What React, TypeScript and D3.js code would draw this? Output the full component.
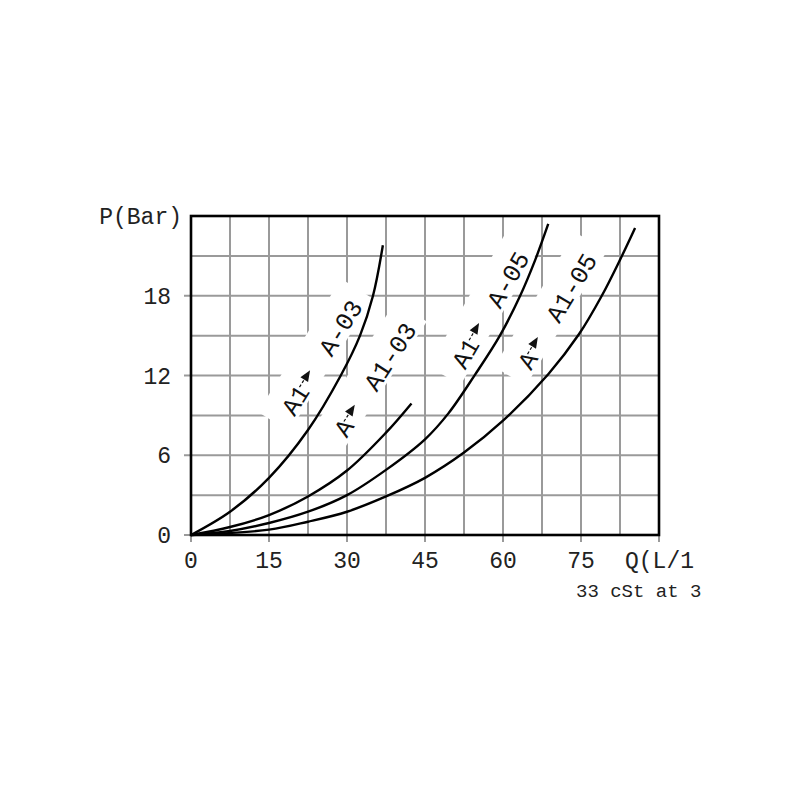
import React from 'react';
import * as d3 from 'd3';

// axis ticks
const xTicks = [0, 15, 30, 45, 60, 75, 90];
const xTickLabels = ['0', '15', '30', '45', '60', '75'];
const yTicks = [0, 6, 12, 18];
const xGridStep = 7.5;
const yGridStep = 3;

// Q (L/min) vs P (bar)
const curveA1toA03 = [[0, 0], [7.5, 1.75], [15, 4.3], [22.5, 7.9], [28.8, 12], [32.5, 15], [35, 18], [36.9, 21.8]];
const curveAtoA103 = [[0, 0], [7.5, 0.6], [15, 1.5], [22.5, 2.9], [30, 4.85], [37.5, 7.7], [42.4, 9.9]];
const curveA1toA05 = [[0, 0], [7.5, 0.3], [15, 0.9], [22.5, 1.75], [30, 3.0], [37.5, 4.9], [45, 7.2], [49.5, 9.15], [54.6, 12.05], [59.4, 15], [63.3, 18], [66.2, 20.7], [68.7, 23.4]];
const curveAtoA105 = [[0, 0], [15, 0.4], [22.5, 1.0], [30, 1.75], [37.5, 2.9], [45, 4.3], [52.5, 6.2], [60, 8.6], [68.7, 12.1], [74.6, 15.1], [79, 18], [82.5, 20.7], [85.4, 23.1]];

const curves = [curveA1toA03, curveAtoA103, curveA1toA05, curveAtoA105];

// curve labels: "from ▲ to", placed at the arrow tip
const labels = [
  { from: 'A1', to: 'A-03', q: 22.9, p: 12.4, angle: -58 },
  { from: 'A', to: 'A1-03', q: 31.5, p: 9.8, angle: -57 },
  { from: 'A1', to: 'A-05', q: 55.4, p: 15.95, angle: -60 },
  { from: 'A', to: 'A1-05', q: 66.7, p: 14.9, angle: -59 },
];

const mono = '"Liberation Mono", "Courier New", monospace';

export default function App() {
  const x = d3.scaleLinear().domain([0, 90]).range([191, 659]);
  const y = d3.scaleLinear().domain([0, 24]).range([535, 216]);

  const xGrid = d3.range(0, 90 + 0.01, xGridStep);
  const yGrid = d3.range(0, 24 + 0.01, yGridStep);

  const line = d3.line<number[]>()
    .x(d => x(d[0]))
    .y(d => y(d[1]))
    .curve(d3.curveCatmullRom.alpha(0.5));

  const labelSize = 25;
  const adv = labelSize * 0.6;

  return (
    <svg width={800} height={800} style={{ position: 'absolute', left: 0, top: 0, background: '#fff' }}>
      {/* grid */}
      <g stroke="#9a9a9a" strokeWidth={2}>
        {xGrid.map(v => (
          <line key={'gx' + v} x1={x(v)} x2={x(v)} y1={y(24)} y2={y(0)} />
        ))}
        {yGrid.map(v => (
          <line key={'gy' + v} x1={x(0)} x2={x(90)} y1={y(v)} y2={y(v)} />
        ))}
        {xTicks.map(v => (
          <line key={'tx' + v} x1={x(v)} x2={x(v)} y1={y(0)} y2={y(0) + 7} />
        ))}
        {yTicks.map(v => (
          <line key={'ty' + v} x1={x(0) - 7} x2={x(0)} y1={y(v)} y2={y(v)} />
        ))}
      </g>

      {/* white masks behind the curve labels */}
      {labels.map((l, i) => {
        const start = -18 - l.from.length * adv - 15;
        const end = 22 + l.to.length * adv + 12;
        return (
          <rect key={'m' + i} x={start} y={-22} width={end - start} height={37} fill="#fff"
            transform={`translate(${x(l.q)},${y(l.p)}) rotate(${l.angle})`} />
        );
      })}

      {/* frame */}
      <rect x={x(0)} y={y(24)} width={x(90) - x(0)} height={y(0) - y(24)} fill="none" stroke="#000" strokeWidth={2.6} />

      {/* curves */}
      {curves.map((c, i) => (
        <path key={'c' + i} d={line(c) || ''} fill="none" stroke="#000" strokeWidth={2.4} />
      ))}

      {/* curve labels */}
      {labels.map((l, i) => (
        <g key={'l' + i} transform={`translate(${x(l.q)},${y(l.p)}) rotate(${l.angle})`}
          fontFamily={mono} fontSize={labelSize} fill="#111">
          <text x={-18} y={3} dy="0.35em" textAnchor="end">{l.from}</text>
          <line x1={-20} x2={-10} y1={0} y2={0} stroke="#111" strokeWidth={1.2} strokeDasharray="3,2" />
          <path d="M0,0 L-11,-4.5 L-11,4.5 Z" fill="#111" />
          <text x={22} y={3} dy="0.35em" textAnchor="start">{l.to}</text>
        </g>
      ))}

      {/* tick labels */}
      <g fontFamily={mono} fontSize={23} fill="#222">
        {xTickLabels.map((t, i) => (
          <text key={'xl' + t} x={x(xTicks[i])} y={y(0) + 33} textAnchor="middle">{t}</text>
        ))}
        {yTicks.map(v => (
          <text key={'yl' + v} x={x(0) - 20} y={y(v)} dy="0.35em" textAnchor="end">{v}</text>
        ))}
        <text x={x(0) - 9} y={y(24) + 8} textAnchor="end">P(Bar)</text>
        <text x={x(90) - 34} y={y(0) + 33}>Q(L/1</text>
      </g>
      <text x={576} y={y(0) + 62} fontFamily={mono} fontSize={19} fill="#222">33 cSt at 3</text>
    </svg>
  );
}
